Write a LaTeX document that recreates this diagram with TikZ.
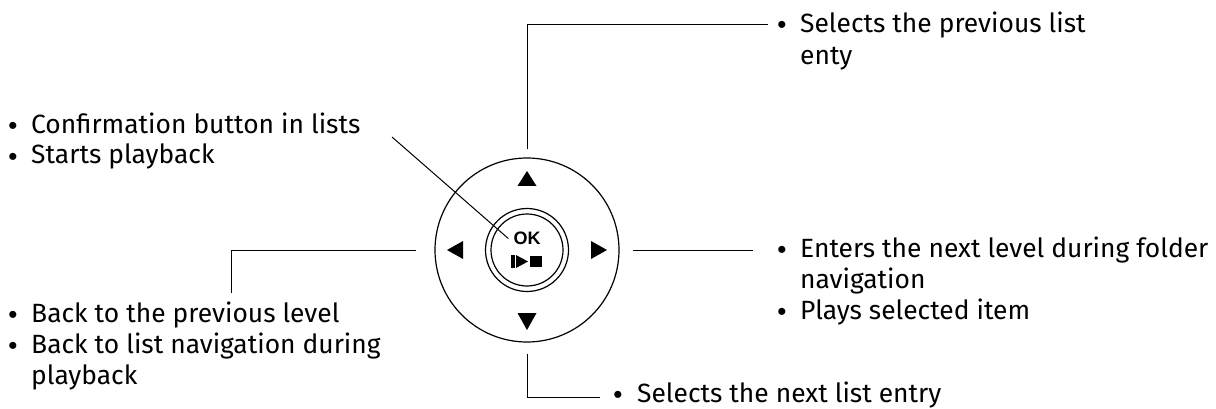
\documentclass[tikz,border=0pt]{standalone}
\usepackage{fontspec}
\setmainfont{Fira Sans}
\newfontfamily\okfont{Liberation Sans}
\begin{document}
\begin{tikzpicture}[x=1pt,y=-1pt,
  lbl/.style={anchor=base west, inner sep=0pt, font=\fontsize{26.4}{30}\selectfont},
  bul/.style={anchor=base, inner sep=0pt, font=\okfont\fontsize{26}{30}\selectfont},
  ring/.style={draw, circle, inner sep=0pt, line width=1.2pt},
  wire/.style={line width=1pt},
  glyph/.style={fill=black}]
\useasboundingbox (0,0) rectangle (1216,409);
% pad
\node[ring, minimum size=184pt] (pad) at (527,250) {};
\node[ring, minimum size=83pt] (okring) at (527,250) {};
\node[ring, minimum size=72pt] (okbtn) at (527,250) {};
\node[inner sep=0pt, font=\okfont\bfseries\fontsize{18}{18}\selectfont] (ok) at (527,238.5) {OK};
% play / stop
\fill[glyph] (511,255) rectangle (514.5,268);
\fill[glyph] (516,255) -- (528,261.5) -- (516,268) -- cycle;
\fill[glyph] (530,256) rectangle (542,267);
% arrows on ring
\fill[glyph] (517.5,186) -- (527,171) -- (536.5,186) -- cycle;
\fill[glyph] (517.5,313) -- (527,330) -- (536.5,313) -- cycle;
\fill[glyph] (463,241) -- (447,250) -- (463,259) -- cycle;
\fill[glyph] (591,241) -- (607,250) -- (591,259) -- cycle;
% labels
\node[bul] (tb1) at (782,34) {\textbullet};
\node[lbl] (t1) at (800,33) {Selects the previous list};
\node[lbl] (t2) at (800,65) {enty};
\node[bul] (lb1) at (13,135) {\textbullet};
\node[lbl] (l1) at (31,134) {Confirmation button in lists};
\node[bul] (lb2) at (13,165) {\textbullet};
\node[lbl] (l2) at (31,164) {Starts playback};
\node[bul] (bb1) at (13,323) {\textbullet};
\node[lbl] (b1) at (31,322) {Back to the previous level};
\node[bul] (bb2) at (13,354) {\textbullet};
\node[lbl] (b2) at (31,353) {Back to list navigation during};
\node[lbl] (b3) at (31,384) {playback};
\node[bul] (rb1) at (782,258) {\textbullet};
\node[lbl] (r1) at (800,257) {Enters the next level during folder};
\node[lbl] (r2) at (800,288) {navigation};
\node[bul] (rb3) at (782,320) {\textbullet};
\node[lbl] (r3) at (800,319) {Plays selected item};
\node[bul] (db1) at (618,403) {\textbullet};
\node[lbl] (d1) at (637,402) {Selects the next list entry};
% connectors
\coordinate (topend) at (768,25);
\coordinate (okstart) at (392,137);
\coordinate (leftend) at (231,293);
\coordinate (rightend) at (753,250);
\coordinate (botend) at (600,397);
\draw[wire] ([yshift=8pt]pad.north) |- (topend);
\draw[wire] (okstart) -- ([xshift=-5pt]ok.west);
\draw[wire] ([xshift=-18pt]pad.west) -| (leftend);
\draw[wire] ([xshift=13pt]pad.east) -- (rightend);
\draw[wire] ([yshift=-11pt]pad.south) |- (botend);
\end{tikzpicture}
\end{document}
